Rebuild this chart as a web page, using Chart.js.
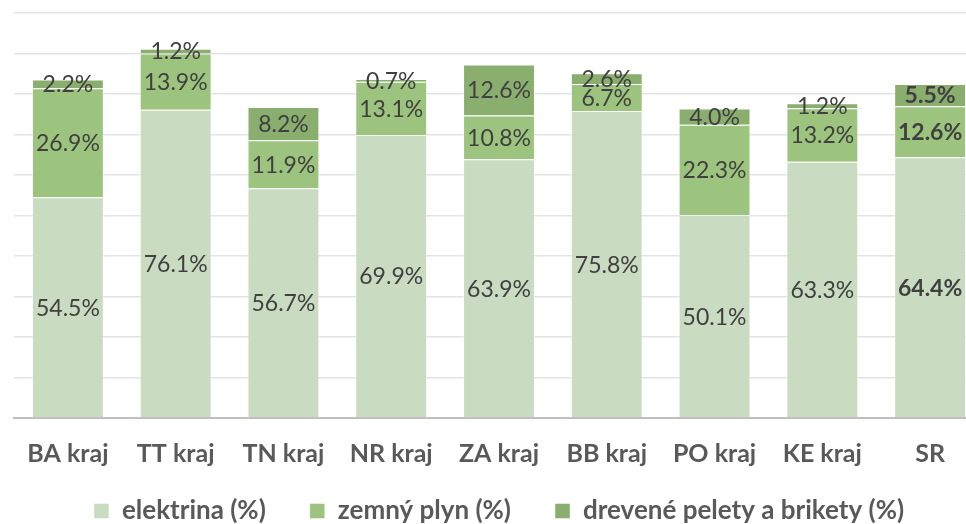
<!DOCTYPE html>
<html>
<head>
<meta charset="utf-8">
<script src="https://cdn.jsdelivr.net/npm/chart.js@4/dist/chart.umd.min.js"></script>
<style>
  html, body { margin: 0; padding: 0; background: #fff; overflow: hidden; }
  #wrap { position: relative; width: 990px; height: 534px; }
</style>
</head>
<body>
<div id="wrap"><canvas id="c"></canvas></div>
<script>
const categories = ['BA kraj', 'TT kraj', 'TN kraj', 'NR kraj', 'ZA kraj', 'BB kraj', 'PO kraj', 'KE kraj', 'SR'];
const seriesNames = ['elektrina (%)', 'zemný plyn (%)', 'drevené pelety a brikety (%)'];
const elektrina = [54.5, 76.1, 56.7, 69.9, 63.9, 75.8, 50.1, 63.3, 64.4];
const zemnyPlyn = [26.9, 13.9, 11.9, 13.1, 10.8, 6.7, 22.3, 13.2, 12.6];
const pelety = [2.2, 1.2, 8.2, 0.7, 12.6, 2.6, 4.0, 1.2, 5.5];
const boldCategory = 'SR';

const colors = ['#c9dcc1', '#9dc47e', '#8aae6e'];
const FONT = 'Lato, "Open Sans", sans-serif';

const labelPlugin = {
  id: 'segLabels',
  afterDatasetsDraw(chart) {
    const ctx = chart.ctx;
    ctx.save();
    ctx.textAlign = 'center';
    ctx.textBaseline = 'middle';
    ctx.fillStyle = '#404040';
    chart.data.datasets.forEach((ds, di) => {
      const meta = chart.getDatasetMeta(di);
      meta.data.forEach((el, i) => {
        const bold = chart.data.labels[i] === boldCategory;
        ctx.font = (bold ? 'bold ' : '') + '23px ' + FONT;
        const v = ds.data[i];
        const y = (el.y + el.base) / 2;
        ctx.fillText(v.toFixed(1) + '%', el.x, y + 1);
      });
    });
    ctx.restore();
  }
};

new Chart(document.getElementById('c'), {
  type: 'bar',
  data: {
    labels: categories,
    datasets: [
      { label: seriesNames[0], data: elektrina, backgroundColor: colors[0] },
      { label: seriesNames[1], data: zemnyPlyn, backgroundColor: colors[1] },
      { label: seriesNames[2], data: pelety, backgroundColor: colors[2] }
    ].map(d => Object.assign(d, {
      borderColor: 'rgba(255,255,255,0.45)',
      borderWidth: 1,
      categoryPercentage: 1,
      barPercentage: 0.667
    }))
  },
  options: {
    responsive: true,
    maintainAspectRatio: false,
    animation: false,
    layout: { padding: { left: 14, right: 6, top: 13, bottom: 0 } },
    plugins: {
      tooltip: { enabled: false },
      legend: {
        position: 'bottom',
        labels: {
          color: '#595959',
          font: { family: FONT, size: 26, weight: 'bold' },
          boxWidth: 15,
          boxHeight: 15,
          padding: 44
        }
      }
    },
    scales: {
      x: {
        stacked: true,
        grid: { display: false, drawTicks: false },
        border: { display: true, color: '#bfbfbf', width: 2 },
        ticks: {
          color: '#595959',
          font: { family: FONT, size: 25, weight: 'bold', lineHeight: 1 },
          mirror: true,
          padding: -48,
          maxRotation: 0,
          autoSkip: false
        },
        afterFit: (s) => { s.height = 36; }
      },
      y: {
        stacked: true,
        min: 0,
        max: 100,
        ticks: { display: false, stepSize: 10 },
        grid: { color: '#e3e3e3', lineWidth: 1.5, drawTicks: false },
        border: { display: false }
      }
    }
  },
  plugins: [labelPlugin]
});
</script>
</body>
</html>
